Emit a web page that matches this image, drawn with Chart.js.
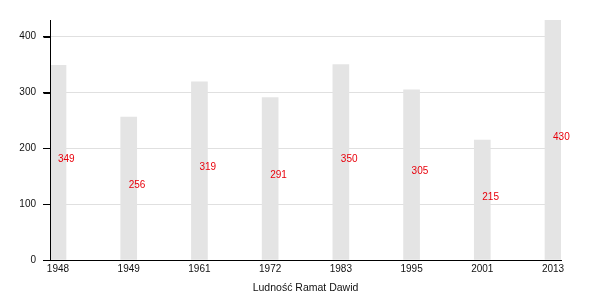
<!DOCTYPE html>
<html><head><meta charset="utf-8">
<script src="https://cdn.jsdelivr.net/npm/chart.js@4/dist/chart.umd.min.js"></script>
<style>html,body{margin:0;padding:0;background:#fff}#wrap{width:600px;height:300px}</style>
</head><body><div id="wrap"><canvas id="c" width="600" height="300"></canvas></div>
<script>
const years = ["1948","1949","1961","1972","1983","1995","2001","2013"];
const population = [349,256,319,291,350,305,215,430];
const yTicks = [0,100,200,300,400];
const axisTitle = "Ludność Ramat Dawid";

const FONT = "'Liberation Sans', Arial, sans-serif";
const labelPlugin = {
  id:'vals',
  afterDatasetsDraw(chart){
    const ctx = chart.ctx;
    const ca = chart.chartArea;
    const ys = chart.scales.y;
    ctx.save();
    ctx.strokeStyle = '#000';
    ctx.lineWidth = 1;
    const x = Math.floor(ca.left) + 0.5;
    ctx.beginPath(); ctx.moveTo(x, ca.top); ctx.lineTo(x, ca.bottom); ctx.stroke();
    yTicks.forEach(v=>{
      const y = Math.round(ys.getPixelForValue(v)) + 0.5;
      ctx.beginPath(); ctx.moveTo(x-7, y); ctx.lineTo(x, y); ctx.stroke();
    });
    const meta = chart.getDatasetMeta(0);
    ctx.font = "10px " + FONT;
    ctx.fillStyle = "#e8000b";
    ctx.textAlign = "left";
    ctx.textBaseline = "middle";
    meta.data.forEach((el,i)=>{
      ctx.fillText(String(population[i]), el.x, (el.y+el.base)/2 - 3);
    });
    ctx.restore();
  }
};

new Chart(document.getElementById('c'),{
  type:'bar',
  data:{datasets:[{
    data: population.map((v,i)=>({x:i,y:v})),
    backgroundColor:'#e4e4e4',
    barThickness:16,
    borderWidth:0
  }]},
  options:{
    responsive:false, animation:false,
    layout:{padding:{top:20,right:39,left:0,bottom:0}},
    plugins:{legend:{display:false},tooltip:{enabled:false}},
    scales:{
      x:{
        type:'linear', min:-0.113, max:7.113, offset:false,
        afterBuildTicks(s){ s.ticks = years.map((y,i)=>({value:i})); },
        afterFit(s){ s.height = 40; },
        ticks:{callback:(v)=>years[v], color:'#111', font:{family:FONT,size:10}, padding:3, maxRotation:0, autoSkip:false},
        grid:{drawOnChartArea:false, drawTicks:false},
        border:{display:true,color:'#000',width:1},
        title:{display:true,text:axisTitle,color:'#111',font:{family:FONT,size:10.5},padding:{top:4,bottom:6}}
      },
      y:{
        min:0, max:430,
        afterBuildTicks(s){ s.ticks = yTicks.map(v=>({value:v})); },
        afterFit(s){ s.width = 50; },
        ticks:{color:'#111', font:{family:FONT,size:10}, padding:7},
        grid:{color:'#e0e0e0', tickColor:'#000', tickLength:7},
        border:{display:true,color:'#000',width:1}
      }
    }
  },
  plugins:[labelPlugin]
});
</script></body></html>
